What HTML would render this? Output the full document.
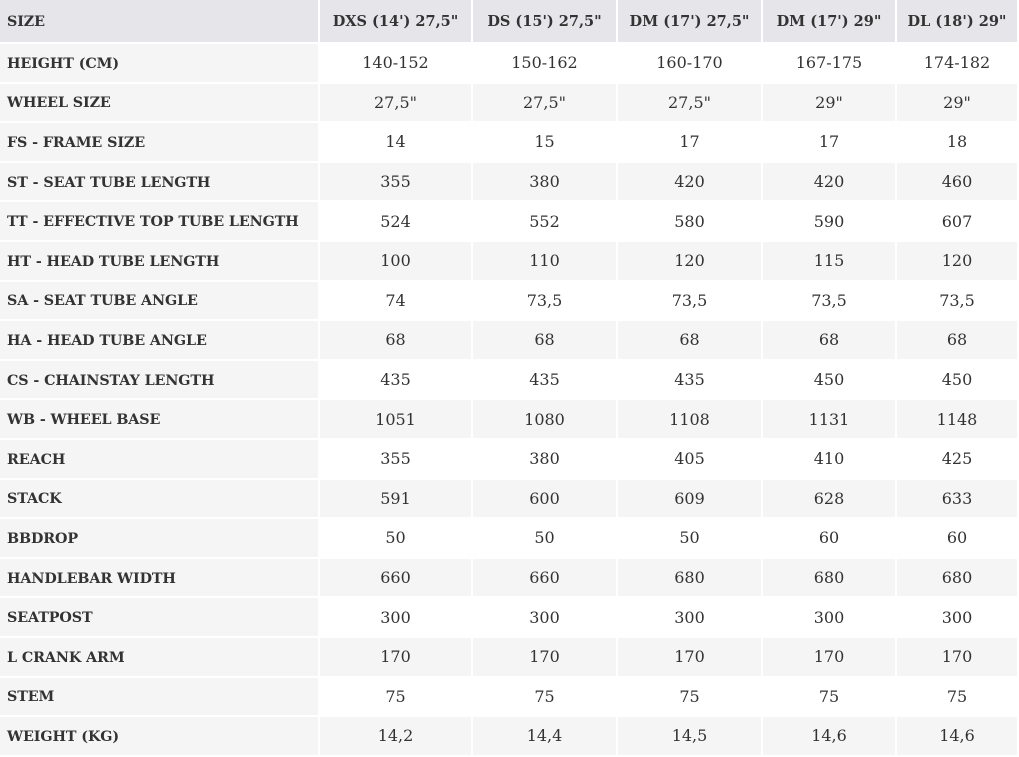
<!DOCTYPE html>
<html><head><style>
body{margin:0;width:1019px;height:750px;background:#fff;overflow:hidden}
table{border-collapse:separate;border-spacing:0;width:1019px;table-layout:fixed;font-family:"DejaVu Serif","Liberation Serif",serif;color:#333}
td{border-right:2px solid #fff;border-bottom:2px solid #fff;padding:0;text-align:center;font-size:16px;height:39.6px;box-sizing:border-box;vertical-align:middle}
td:first-child{text-align:left;padding-left:7px;padding-top:2px;font-weight:bold;font-size:14.3px;letter-spacing:-0.1px}
tr.h td{background:#e6e6ea;font-weight:bold;font-size:14.5px;height:44px;border-bottom:2px solid #fff;padding-top:1px}
tr.h td:first-child{font-size:14.3px}
tr:nth-child(even) td{background:#fff}
tr:nth-child(odd):not(.h) td{background:#f5f5f5}
tr td:first-child{background:#f5f5f5!important}
tr.h td:first-child{background:#e6e6ea!important}
</style></head><body>
<table>
<colgroup><col style="width:320px"><col style="width:153px"><col style="width:145px"><col style="width:145px"><col style="width:134px"><col style="width:122px"></colgroup>
<tr class="h"><td>SIZE</td><td>DXS (14') 27,5"</td><td>DS (15') 27,5"</td><td>DM (17') 27,5"</td><td>DM (17') 29"</td><td>DL (18') 29"</td></tr>
<tr><td>HEIGHT (CM)</td><td>140-152</td><td>150-162</td><td>160-170</td><td>167-175</td><td>174-182</td></tr>
<tr><td>WHEEL SIZE</td><td>27,5"</td><td>27,5"</td><td>27,5"</td><td>29"</td><td>29"</td></tr>
<tr><td>FS - FRAME SIZE</td><td>14</td><td>15</td><td>17</td><td>17</td><td>18</td></tr>
<tr><td>ST - SEAT TUBE LENGTH</td><td>355</td><td>380</td><td>420</td><td>420</td><td>460</td></tr>
<tr><td>TT - EFFECTIVE TOP TUBE LENGTH</td><td>524</td><td>552</td><td>580</td><td>590</td><td>607</td></tr>
<tr><td>HT - HEAD TUBE LENGTH</td><td>100</td><td>110</td><td>120</td><td>115</td><td>120</td></tr>
<tr><td>SA - SEAT TUBE ANGLE</td><td>74</td><td>73,5</td><td>73,5</td><td>73,5</td><td>73,5</td></tr>
<tr><td>HA - HEAD TUBE ANGLE</td><td>68</td><td>68</td><td>68</td><td>68</td><td>68</td></tr>
<tr><td>CS - CHAINSTAY LENGTH</td><td>435</td><td>435</td><td>435</td><td>450</td><td>450</td></tr>
<tr><td>WB - WHEEL BASE</td><td>1051</td><td>1080</td><td>1108</td><td>1131</td><td>1148</td></tr>
<tr><td>REACH</td><td>355</td><td>380</td><td>405</td><td>410</td><td>425</td></tr>
<tr><td>STACK</td><td>591</td><td>600</td><td>609</td><td>628</td><td>633</td></tr>
<tr><td>BBDROP</td><td>50</td><td>50</td><td>50</td><td>60</td><td>60</td></tr>
<tr><td>HANDLEBAR WIDTH</td><td>660</td><td>660</td><td>680</td><td>680</td><td>680</td></tr>
<tr><td>SEATPOST</td><td>300</td><td>300</td><td>300</td><td>300</td><td>300</td></tr>
<tr><td>L CRANK ARM</td><td>170</td><td>170</td><td>170</td><td>170</td><td>170</td></tr>
<tr><td>STEM</td><td>75</td><td>75</td><td>75</td><td>75</td><td>75</td></tr>
<tr><td>WEIGHT (KG)</td><td>14,2</td><td>14,4</td><td>14,5</td><td>14,6</td><td>14,6</td></tr>
</table>
</body></html>
